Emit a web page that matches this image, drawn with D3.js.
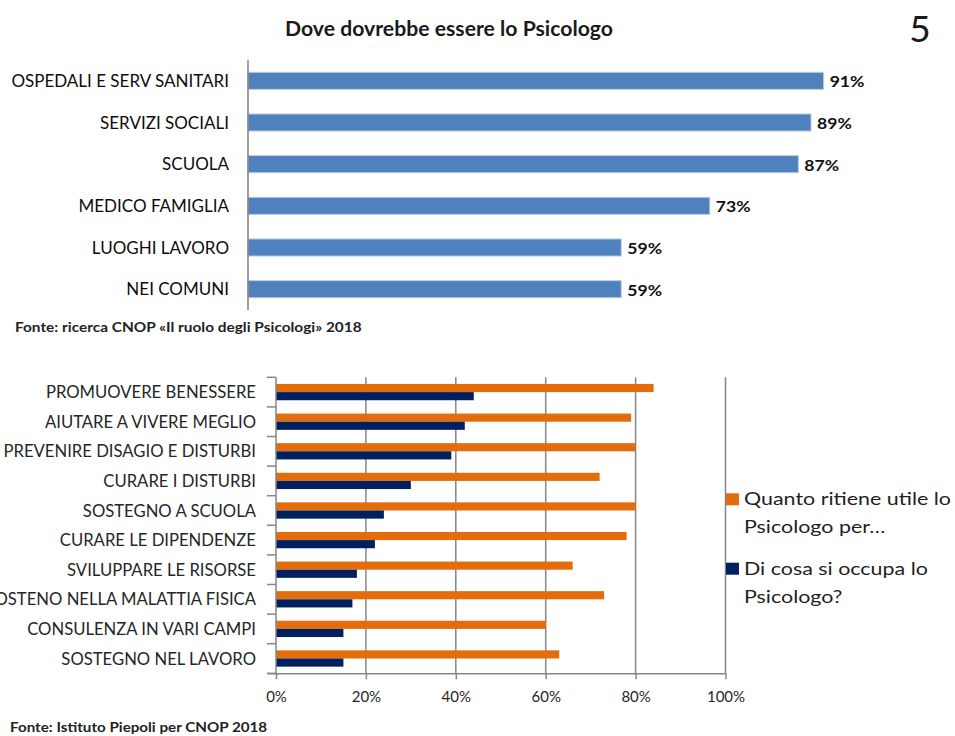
<!DOCTYPE html>
<html>
<head>
<meta charset="utf-8">
<script src="https://cdn.jsdelivr.net/npm/d3@7"></script>
<style>
  html, body { margin: 0; padding: 0; background: #fff; }
  svg { display: block; font-family: Lato, "Open Sans", sans-serif; }
</style>
</head>
<body>
<svg id="chart" width="955" height="736"></svg>
<script>
// --- Top chart: where the psychologist should be ---
const placeCategories = ["OSPEDALI E SERV SANITARI", "SERVIZI SOCIALI", "SCUOLA",
  "MEDICO FAMIGLIA", "LUOGHI LAVORO", "NEI COMUNI"];
const placeValues = [91, 89, 87, 73, 59, 59];

// --- Bottom chart: usefulness vs. perceived activity ---
const roleCategories = ["PROMUOVERE BENESSERE", "AIUTARE A VIVERE MEGLIO",
  "PREVENIRE DISAGIO E DISTURBI", "CURARE I DISTURBI", "SOSTEGNO A SCUOLA",
  "CURARE LE DIPENDENZE", "SVILUPPARE LE RISORSE", "SOSTENO NELLA MALATTIA FISICA",
  "CONSULENZA IN VARI CAMPI", "SOSTEGNO NEL LAVORO"];
const usefulValues = [84, 79, 80, 72, 80, 78, 66, 73, 60, 63];
const occupiesValues = [44, 42, 39, 30, 24, 22, 18, 17, 15, 15];
const seriesNames = ["Quanto ritiene utile lo Psicologo per…", "Di cosa si occupa lo Psicologo?"];
const legendLines = [["Quanto ritiene utile lo", "Psicologo per…"], ["Di cosa si occupa lo", "Psicologo?"]];
const percentTicks = [0, 20, 40, 60, 80, 100];

const svg = d3.select("#chart");

// stretch or shrink a text horizontally by a factor of its natural width
function squeeze(sel, k) {
  sel.each(function () {
    const w = this.getComputedTextLength();
    d3.select(this).attr("textLength", w * k).attr("lengthAdjust", "spacingAndGlyphs");
  });
}

// ---------- page title & number ----------
svg.append("text").attr("x", 449).attr("y", 36).attr("text-anchor", "middle")
  .attr("font-size", 20).attr("font-weight", "bold").attr("fill", "#1a1a1a")
  .text("Dove dovrebbe essere lo Psicologo").call(squeeze, 1.06);

svg.append("text").attr("x", 920).attr("y", 42).attr("text-anchor", "middle")
  .attr("font-size", 37).attr("fill", "#1a1a1a").text("5");

// ---------- top chart ----------
const xTop = d3.scaleLinear().domain([0, 100]).range([248, 880.6]);
const yTop = d3.scaleBand().domain(placeCategories).range([60, 310])
  .paddingInner(0.59).paddingOuter(0.295);

const topG = svg.append("g");
topG.selectAll("rect.bar").data(placeCategories).join("rect")
  .attr("class", "bar")
  .attr("x", xTop(0))
  .attr("y", d => yTop(d))
  .attr("width", (d, i) => xTop(placeValues[i]) - xTop(0))
  .attr("height", yTop.bandwidth())
  .attr("fill", "#4F81BD")
  .attr("stroke", "#B9CDE5").attr("stroke-width", 1);

topG.append("line").attr("x1", xTop(0)).attr("x2", xTop(0))
  .attr("y1", 60).attr("y2", 310).attr("stroke", "#808080").attr("stroke-width", 1.5);

topG.selectAll("text.cat").data(placeCategories).join("text")
  .attr("class", "cat")
  .attr("x", 229).attr("y", d => yTop(d) + yTop.bandwidth() / 2)
  .attr("dy", "0.36em").attr("text-anchor", "end")
  .attr("font-size", 17).attr("fill", "#0d0d0d")
  .text(d => d).call(squeeze, 1.0);

topG.selectAll("text.val").data(placeCategories).join("text")
  .attr("class", "val")
  .attr("x", (d, i) => xTop(placeValues[i]) + 6)
  .attr("y", d => yTop(d) + yTop.bandwidth() / 2)
  .attr("dy", "0.4em")
  .attr("font-size", 16).attr("font-weight", "bold").attr("fill", "#111")
  .text((d, i) => placeValues[i] + "%").call(squeeze, 1.1);

svg.append("text").attr("x", 15).attr("y", 332)
  .attr("font-size", 14).attr("font-weight", "bold").attr("fill", "#222")
  .text("Fonte: ricerca CNOP «Il ruolo degli Psicologi» 2018").call(squeeze, 1.1);

// ---------- bottom chart ----------
const xBot = d3.scaleLinear().domain([0, 100]).range([276, 725.5]);
const yBot = d3.scaleBand().domain(roleCategories).range([377.3, 673.3])
  .paddingInner(0.45).paddingOuter(0.225);
const ySub = d3.scaleBand().domain(seriesNames).range([0, yBot.bandwidth()]);
const colors = ["#E46C0A", "#002060"];
const step = yBot.step();

const botG = svg.append("g");

// vertical gridlines
botG.selectAll("line.grid").data(percentTicks.slice(1)).join("line")
  .attr("class", "grid")
  .attr("x1", d => xBot(d)).attr("x2", d => xBot(d))
  .attr("y1", 377.3).attr("y2", 673.3)
  .attr("stroke", "#868686").attr("stroke-width", 1.5);

// bars
const seriesValues = [usefulValues, occupiesValues];
seriesValues.forEach((vals, s) => {
  botG.selectAll("rect.s" + s).data(roleCategories).join("rect")
    .attr("class", "s" + s)
    .attr("x", xBot(0))
    .attr("y", d => yBot(d) + ySub(seriesNames[s]))
    .attr("width", (d, i) => xBot(vals[i]) - xBot(0))
    .attr("height", ySub.bandwidth())
    .attr("fill", colors[s]);
});

// category axis with ticks at band boundaries
botG.append("line").attr("x1", xBot(0)).attr("x2", xBot(0))
  .attr("y1", 377.3).attr("y2", 673.3).attr("stroke", "#868686").attr("stroke-width", 1.5);
const boundaries = d3.range(roleCategories.length + 1).map(i => 377.3 + i * step);
botG.selectAll("line.ytick").data(boundaries).join("line")
  .attr("class", "ytick")
  .attr("x1", xBot(0) - 9).attr("x2", xBot(0))
  .attr("y1", d => d).attr("y2", d => d)
  .attr("stroke", "#868686").attr("stroke-width", 1.5);

botG.selectAll("text.cat").data(roleCategories).join("text")
  .attr("class", "cat")
  .attr("x", 256).attr("y", d => yBot(d) + yBot.bandwidth() / 2)
  .attr("dy", "0.36em").attr("text-anchor", "end")
  .attr("font-size", 17).attr("fill", "#262626")
  .text(d => d).call(squeeze, 0.98);

// value axis
const xAxis = d3.axisBottom(xBot).tickValues(percentTicks)
  .tickFormat(d => d + "%").tickSize(6).tickPadding(12);
const axG = botG.append("g").attr("transform", "translate(0,673.3)").call(xAxis);
axG.select(".domain").attr("d", `M${xBot(0) - 9},0.5H${xBot(100)}`)
  .attr("stroke", "#868686").attr("stroke-width", 1.5);
axG.selectAll(".tick line").attr("stroke", "#868686").attr("stroke-width", 1.5);
axG.selectAll(".tick text").attr("font-size", 15).attr("fill", "#262626")
  .attr("font-family", "Lato, sans-serif");

// legend
const legend = svg.append("g").attr("transform", "translate(726,0)");
const legendY = [493.3, 562.7];
legendLines.forEach((lines, s) => {
  legend.append("rect").attr("x", 0).attr("y", legendY[s])
    .attr("width", 13).attr("height", 12).attr("fill", colors[s]);
  lines.forEach((ln, j) => {
    legend.append("text").attr("x", 18).attr("y", legendY[s] + 12 + j * 28)
      .attr("font-size", 18).attr("fill", "#1f1f1f").text(ln).call(squeeze, 1.19);
  });
});

svg.append("text").attr("x", 10).attr("y", 732)
  .attr("font-size", 14).attr("font-weight", "bold").attr("fill", "#222")
  .text("Fonte: Istituto Piepoli per CNOP 2018").call(squeeze, 1.085);
</script>
</body>
</html>
